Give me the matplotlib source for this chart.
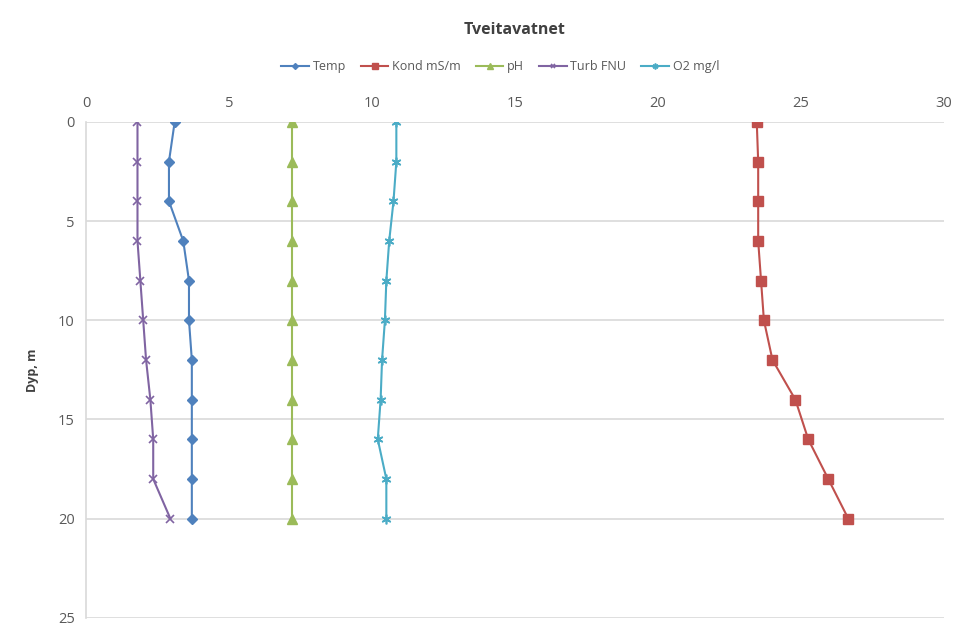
import matplotlib.pyplot as plt

# Tveitavatnet depth profile
depth = [0, 2, 4, 6, 8, 10, 12, 14, 16, 18, 20]
temp = [3.1, 2.9, 2.9, 3.4, 3.6, 3.6, 3.7, 3.7, 3.7, 3.7, 3.7]
kond = [23.45, 23.5, 23.5, 23.5, 23.6, 23.7, 24.0, 24.8, 25.25, 25.95, 26.65]
ph = [7.2, 7.2, 7.2, 7.2, 7.2, 7.2, 7.2, 7.2, 7.2, 7.2, 7.2]
turb = [1.8, 1.8, 1.8, 1.8, 1.9, 2.0, 2.1, 2.25, 2.35, 2.35, 2.95]
o2 = [10.85, 10.85, 10.75, 10.6, 10.5, 10.45, 10.35, 10.3, 10.2, 10.5, 10.5]

plt.rcParams['font.family'] = ['Open Sans', 'DejaVu Sans']
txt = '#595959'

fig = plt.figure(figsize=(9.62, 6.35), dpi=100)
ax = fig.add_axes([0.0894, 0.027, 0.892, 0.781])

ax.plot(temp, depth, color='#4F81BD', marker='D', markersize=5, lw=1.5, label='Temp')
ax.plot(kond, depth, color='#C0504D', marker='s', markersize=7, lw=1.5, label='Kond mS/m')
ax.plot(ph, depth, color='#9BBB59', marker='^', markersize=7, lw=1.5, label='pH')
ax.plot(turb, depth, color='#8064A2', marker='x', markersize=6, mew=1.2, lw=1.5, label='Turb FNU')
ax.plot(o2, depth, color='#4BACC6', marker=(6, 2, 0), markersize=7, mew=1.2, lw=1.5, label='O2 mg/l')

ax.set_xlim(0, 30)
ax.set_ylim(25, 0)
ax.set_xticks(range(0, 31, 5))
ax.set_yticks(range(0, 26, 5))
ax.xaxis.tick_top()
ax.tick_params(length=0, colors=txt, labelsize=10.5, pad=8)
ax.grid(axis='y', color='#d9d9d9', lw=1.2)
ax.set_axisbelow(True)
for s in ['top', 'right', 'bottom']:
    ax.spines[s].set_visible(False)
ax.spines['left'].set_color('#d9d9d9')
ax.spines['left'].set_linewidth(1.2)

ax.set_ylabel('Dyp, m', fontsize=9, fontweight='bold', color='#404040', labelpad=14)

fig.text(0.535, 0.952, 'Tveitavatnet', ha='center', va='center', fontsize=11.5,
         fontweight='bold', color='#404040')
fig.legend(loc='center', bbox_to_anchor=(0.52, 0.895), ncol=5, frameon=False,
           fontsize=9, labelcolor=txt, handlelength=2.2, columnspacing=1.2,
           handletextpad=0.3, markerscale=0.6)

fig.savefig('out.png', dpi=100)
